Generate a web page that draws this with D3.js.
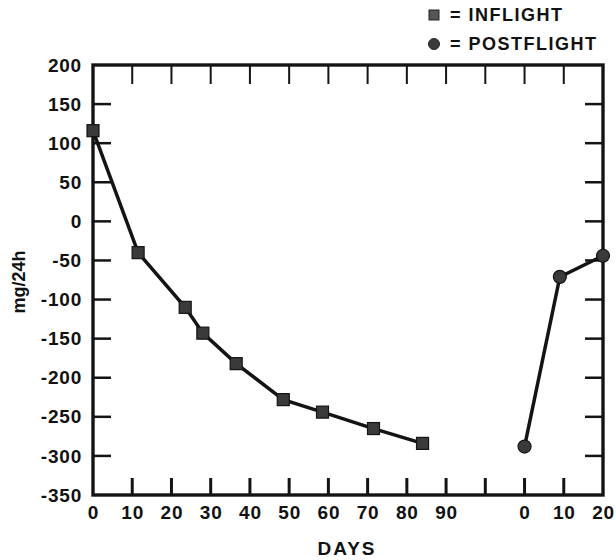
<!DOCTYPE html>
<html><head><meta charset="utf-8">
<script src="https://cdn.jsdelivr.net/npm/d3@7"></script>
<style>
html,body{margin:0;padding:0;background:#fff;}
text{font-family:"Liberation Sans",Arial,sans-serif;font-weight:bold;fill:#111;}
</style></head>
<body><svg id="c" width="616" height="560"></svg>
<script>
// ---- data ----
const inflightDays   = [0, 11.5, 23.5, 28, 36.5, 48.5, 58.5, 71.5, 84];
const inflightValues = [116, -40, -110, -143, -182, -228, -244, -265, -284];
const postflightDays   = [0, 9, 20];
const postflightValues = [-288, -71, -44];
const postflightOffset = 110; // postflight day 0 sits at axis unit 110
const xTickValues = [0,10,20,30,40,50,60,70,80,90,100,110,120,130];
const xTickLabels = ["0","10","20","30","40","50","60","70","80","90","","0","10","20"];
const yTickValues = [200,150,100,50,0,-50,-100,-150,-200,-250,-300,-350];
const legendItems = ["= INFLIGHT", "= POSTFLIGHT"];

const svg = d3.select("#c");
const x = d3.scaleLinear().domain([0,130]).range([93,603]);
const y = d3.scaleLinear().domain([-350,200]).range([495,65]);
const ink = "#141414";
const FONT = '"Liberation Sans", Arial, sans-serif';

// frame
const x0 = x(0), x1 = x(130), yT = y(200), yB = y(-350);
svg.append("rect").attr("x",x0).attr("y",yT).attr("width",x1-x0).attr("height",yB-yT)
  .attr("fill","none").attr("stroke",ink).attr("stroke-width",3.4);

// inner tick marks
const innerX = xTickValues.filter(v => v>0 && v<130);
const innerY = yTickValues.filter(v => v<200 && v>-350);
svg.append("g").selectAll("line").data(innerX).join("line")
  .attr("x1",d=>x(d)).attr("x2",d=>x(d)).attr("y1",yT).attr("y2",yT+19)
  .attr("stroke",ink).attr("stroke-width",2);
svg.append("g").selectAll("line").data(innerX).join("line")
  .attr("x1",d=>x(d)).attr("x2",d=>x(d)).attr("y1",yB).attr("y2",yB-17)
  .attr("stroke",ink).attr("stroke-width",3);
svg.append("g").selectAll("line").data(innerY).join("line")
  .attr("x1",x0).attr("x2",x0+18).attr("y1",d=>y(d)).attr("y2",d=>y(d))
  .attr("stroke",ink).attr("stroke-width",2.5);
svg.append("g").selectAll("line").data(innerY).join("line")
  .attr("x1",x1).attr("x2",x1-18).attr("y1",d=>y(d)).attr("y2",d=>y(d))
  .attr("stroke",ink).attr("stroke-width",2.5);

// axes labels via d3 axes
const xAxis = d3.axisBottom(x).tickValues(xTickValues).tickSize(0).tickPadding(0)
  .tickFormat((d,i)=>xTickLabels[i]);
const gx = svg.append("g").attr("transform",`translate(0,${yB+10})`).call(xAxis);
gx.select(".domain").remove();
gx.selectAll("text").attr("font-size",19).attr("dy","0.71em").attr("letter-spacing",0.8)
  .style("font-family",FONT).style("font-weight","bold").attr("fill",ink);

const yAxis = d3.axisLeft(y).tickValues(yTickValues).tickSize(0).tickPadding(0)
  .tickFormat(d=>String(d));
const gy = svg.append("g").attr("transform",`translate(82,0)`).call(yAxis);
gy.select(".domain").remove();
gy.selectAll("text").attr("font-size",19).attr("letter-spacing",0.8)
  .style("font-family",FONT).style("font-weight","bold").attr("fill",ink);

// axis titles
svg.append("text").attr("x",347).attr("y",555).attr("text-anchor","middle")
  .attr("font-size",19).attr("letter-spacing",2).text("DAYS");
svg.append("text").attr("transform","translate(25,282) rotate(-90)")
  .attr("text-anchor","middle").attr("font-size",18).text("mg/24h");

// lines
const line = d3.line().x(d=>x(d[0])).y(d=>y(d[1]));
const inPts = inflightDays.map((d,i)=>[d, inflightValues[i]]);
const postPts = postflightDays.map((d,i)=>[d+postflightOffset, postflightValues[i]]);
svg.append("path").attr("d",line(inPts)).attr("fill","none").attr("stroke",ink).attr("stroke-width",3.5);
svg.append("path").attr("d",line(postPts)).attr("fill","none").attr("stroke",ink).attr("stroke-width",3.5);

// markers
svg.append("g").selectAll("rect").data(inPts).join("rect")
  .attr("x",d=>x(d[0])-6).attr("y",d=>y(d[1])-6).attr("width",12).attr("height",12)
  .attr("fill","#3a3a3a").attr("stroke",ink).attr("stroke-width",1.2);
svg.append("g").selectAll("circle").data(postPts).join("circle")
  .attr("cx",d=>x(d[0])).attr("cy",d=>y(d[1])).attr("r",6.5)
  .attr("fill","#3a3a3a").attr("stroke",ink).attr("stroke-width",1.2);

// legend
const lg = svg.append("g");
const rows = [15, 44];
lg.append("rect").attr("x",429).attr("y",rows[0]-5).attr("width",10).attr("height",10)
  .attr("fill","#555").attr("stroke","#222").attr("stroke-width",1);
lg.append("circle").attr("cx",434).attr("cy",rows[1]).attr("r",5.5)
  .attr("fill","#3a3a3a").attr("stroke","#222").attr("stroke-width",1);
lg.selectAll("text").data(legendItems).join("text")
  .attr("x",450).attr("y",(d,i)=>rows[i]).attr("dy","0.36em")
  .attr("font-size",18).attr("letter-spacing",1.5).text(d=>d);
</script></body></html>
